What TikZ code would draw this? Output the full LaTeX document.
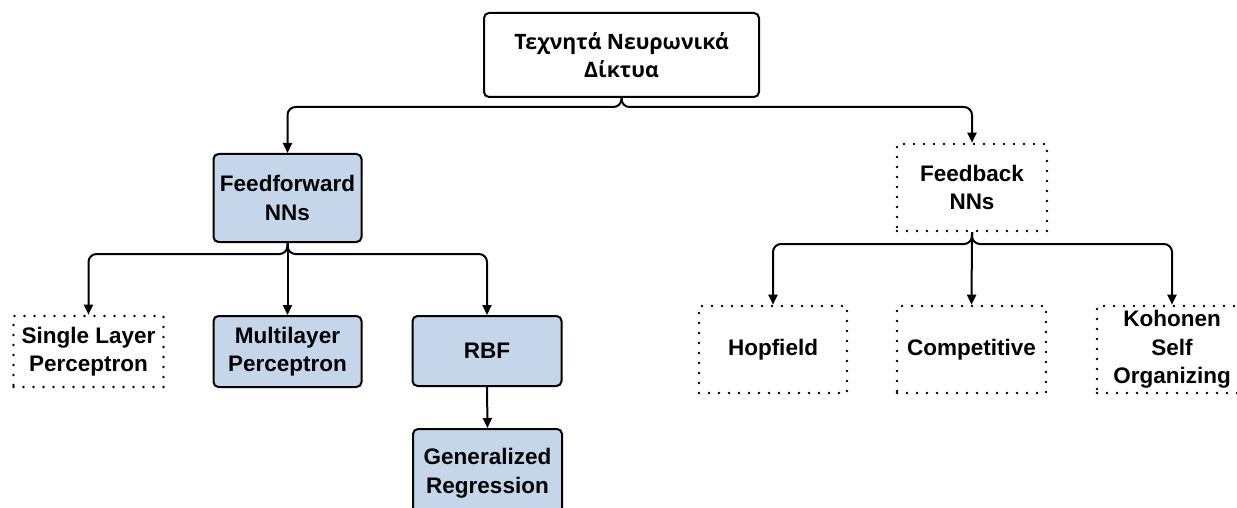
\documentclass[tikz,border=0pt]{standalone}
\usepackage{fontspec}
\setmainfont{Liberation Sans}
\newfontfamily\greekfont{Open Sans}
\usetikzlibrary{arrows.meta}
\definecolor{boxblue}{RGB}{198,214,234}
\begin{document}
\begin{tikzpicture}[x=1pt,y=-1pt,
  every node/.style={font=\fontsize{22.5}{28.5}\selectfont\bfseries, align=center, inner sep=0pt},
  solidbox/.style={draw=black, line width=2pt, rounded corners=5pt, fill=boxblue},
  rootbox/.style={draw=black, line width=2pt, rounded corners=5pt, fill=white},
  dotbox/.style={draw=black, line width=2.6pt, line cap=round, dash pattern=on 0pt off 10pt},
  conn/.style={draw=black, line width=2pt, rounded corners=8pt, -{Triangle[length=10pt,width=9pt]}}]
  \useasboundingbox (0,0) rectangle (1237,508);
  \clip (0,0) rectangle (1237,508);

  % root of the hierarchy
  \node[rootbox, minimum width=275pt, minimum height=84pt,
        font=\greekfont\fontsize{21.2}{28.3}\selectfont\bfseries] (root) at (621.5,55)
        {Τεχνητά Νευρωνικά\\Δίκτυα};

  % second level
  \node[solidbox, minimum width=148pt, minimum height=88pt] (ff) at (287.5,198) {Feedforward\\NNs};
  \node[dotbox, minimum width=150pt, minimum height=87pt] (fb) at (972,187.5) {Feedback\\NNs};

  % feedforward family
  \node[dotbox, minimum width=150pt, minimum height=71pt] (slp) at (88.5,351.5) {Single Layer\\Perceptron};
  \node[solidbox, minimum width=148pt, minimum height=71pt] (mlp) at (287.5,351.5) {Multilayer\\Perceptron};
  \node[solidbox, minimum width=149pt, minimum height=70pt] (rbf) at (487,351) {RBF};
  \node[solidbox, minimum width=149pt, minimum height=88pt] (grnn) at (487.5,473) {Generalized\\Regression};

  % feedback family
  \node[dotbox, minimum width=148pt, minimum height=87pt] (hop) at (773,349.5) {Hopfield};
  \node[dotbox, minimum width=149pt, minimum height=87pt] (comp) at (971.5,349.5) {Competitive};
  \node[dotbox, minimum width=150pt, minimum height=87pt] (som) at (1172,349.5) {Kohonen\\Self\\Organizing};

  % bus points where branches split
  \coordinate (rootbus) at (621.5,107);
  \coordinate (ffbus) at (287.5,254);
  \coordinate (fbbus) at (972,244);

  % connectors
  \draw[conn] (root.south) -- (rootbus) -| (ff.north);
  \draw[conn] (root.south) -- (rootbus) -| (fb.north);

  \draw[conn] (ff.south) -- (ffbus) -| (slp.north);
  \draw[conn] (ff.south) -- (mlp.north);
  \draw[conn] (ff.south) -- (ffbus) -| (rbf.north);
  \draw[conn] (rbf.south) -- (grnn.north);

  \draw[conn] (fb.south) -- (fbbus) -| (hop.north);
  \draw[conn] (fb.south) -- (comp.north);
  \draw[conn] (fb.south) -- (fbbus) -| (som.north);
\end{tikzpicture}
\end{document}
